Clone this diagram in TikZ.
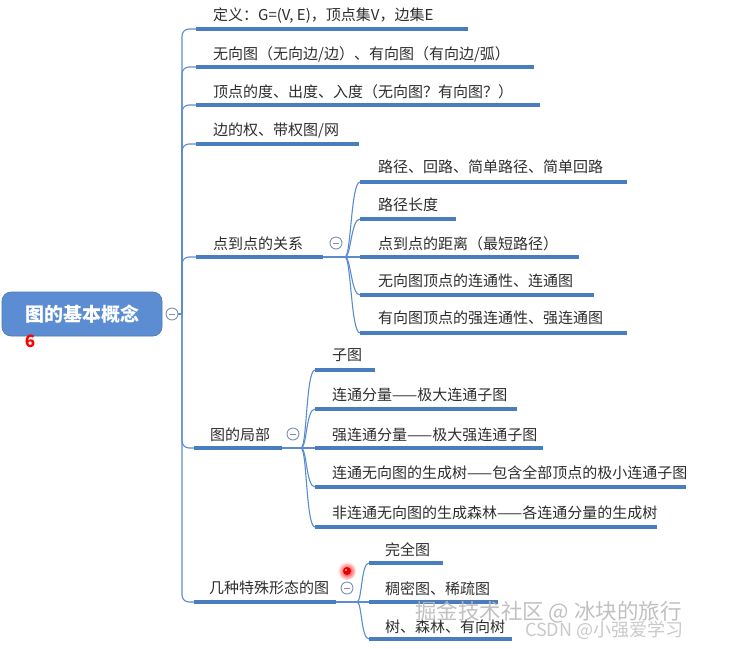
\documentclass[tikz,border=0pt]{standalone}
\usepackage{fontspec}
\setmainfont{Noto Sans CJK SC}
\usetikzlibrary{calc}
\definecolor{txtgray}{RGB}{45,45,45}
\definecolor{ublue}{RGB}{74,124,192}
\definecolor{cblue}{RGB}{92,140,205}
\definecolor{rootblue}{RGB}{92,141,210}
\definecolor{cgray}{RGB}{125,145,180}
\tikzset{
  lbl/.style={anchor=west, inner sep=0pt, text=txtgray, text height=12.9pt, text depth=1.5pt, font=\fontsize{15}{18}\selectfont},
  uline/.style={draw=ublue, line width=3.6pt},
  conn/.style={draw=cblue, line width=1.1pt},
  collapse/.style={circle, draw=cgray, line width=0.9pt, fill=white, minimum size=12pt, inner sep=0pt,
    path picture={\draw[cgray, line width=0.9pt] ([xshift=-3pt]path picture bounding box.center) -- ([xshift=3pt]path picture bounding box.center);}},
  rootbox/.style={rectangle, rounded corners=9pt, fill=rootblue, draw=rootblue!85!black, line width=0.6pt,
    minimum width=160pt, minimum height=44pt, text=white, font=\bfseries\fontsize{19}{22}\selectfont},
}
\begin{document}
\begin{tikzpicture}[x=1pt,y=-1pt]
\useasboundingbox (0,0) rectangle (747,648);

% root
\node[rootbox] (root) at (82,314) {图的基本概念};
\node[collapse] (rc) at (172,314) {};
\node[text=red, font=\bfseries\fontsize{17}{18}\selectfont, inner sep=0pt] (six) at (30,341) {6};
\coordinate (trunk) at (182,314);

% level 1 items
\node[lbl] (n1) at (213,15) {定义：G=(V, E)，顶点集V，边集E};
\coordinate (n1s) at (196,29); \coordinate (n1e) at (468,29);
\node[lbl] (n2) at (213,54) {无向图（无向边/边）、有向图（有向边/弧）};
\coordinate (n2s) at (196,67); \coordinate (n2e) at (534,67);
\node[lbl] (n3) at (213,92) {顶点的度、出度、入度（无向图？有向图？）};
\coordinate (n3s) at (196,105); \coordinate (n3e) at (540,105);
\node[lbl] (n4) at (213,130) {边的权、带权图/网};
\coordinate (n4s) at (196,144); \coordinate (n4e) at (359,144);
\node[lbl] (n5) at (213,244) {点到点的关系};
\coordinate (n5s) at (196,257); \coordinate (n5e) at (323,257);
\node[lbl] (n6) at (210,435) {图的局部};
\coordinate (n6s) at (194,448); \coordinate (n6e) at (282,448);
\node[lbl] (n7) at (209,588) {几种特殊形态的图};
\coordinate (n7s) at (194,602); \coordinate (n7e) at (336,602);

\draw[conn] (rc.east) -- (trunk);
\foreach \k in {1,...,7} {
  \draw[conn, rounded corners=7pt] (trunk) |- (n\k s);
  \draw[uline] (n\k s) -- (n\k e);
}

% collapse buttons of level 1
\node[collapse] (c5) at (336,243) {};
\node[collapse] (c6) at (293,434) {};
\node[collapse] (c7) at (347,588) {};

% hubs
\coordinate (h5) at (345,257);
\coordinate (h6) at (301,448);
\coordinate (h7) at (357,602);
\draw[conn] (n5e) -- (h5);
\draw[conn] (n6e) -- (h6);
\draw[conn] (n7e) -- (h7);

% level 2 under 点到点的关系
\node[lbl] (n5a) at (378,167) {路径、回路、简单路径、简单回路};
\coordinate (n5as) at (360,182); \coordinate (n5ae) at (627,182);
\node[lbl] (n5b) at (378,205) {路径长度};
\coordinate (n5bs) at (360,219); \coordinate (n5be) at (456,219);
\node[lbl] (n5c) at (378,244) {点到点的距离（最短路径）};
\coordinate (n5cs) at (360,257); \coordinate (n5ce) at (579,257);
\node[lbl] (n5d) at (378,281) {无向图顶点的连通性、连通图};
\coordinate (n5ds) at (360,295); \coordinate (n5de) at (594,295);
\node[lbl] (n5e2) at (378,318) {有向图顶点的强连通性、强连通图};
\coordinate (n5es) at (360,333); \coordinate (n5ee) at (627,333);
\foreach \c in {a,b,c,d,e} {
  \draw[conn] (h5) .. controls +(6,0) and +(-9,0) .. (n5\c s);
  \draw[uline] (n5\c s) -- (n5\c e);
}

% level 2 under 图的局部
\node[lbl] (n6a) at (332,355) {子图};
\coordinate (n6as) at (315,370); \coordinate (n6ae) at (375,370);
\node[lbl] (n6b) at (332,395) {连通分量——极大连通子图};
\coordinate (n6bs) at (315,409); \coordinate (n6be) at (517,409);
\node[lbl] (n6c) at (332,435) {强连通分量——极大强连通子图};
\coordinate (n6cs) at (315,448); \coordinate (n6ce) at (543,448);
\node[lbl] (n6d) at (332,473) {连通无向图的生成树——包含全部顶点的极小连通子图};
\coordinate (n6ds) at (315,487); \coordinate (n6de) at (686,487);
\node[lbl] (n6e2) at (332,513) {非连通无向图的生成森林——各连通分量的生成树};
\coordinate (n6es) at (315,527); \coordinate (n6ee) at (657,527);
\foreach \c in {a,b,c,d,e} {
  \draw[conn] (h6) .. controls +(6,0) and +(-9,0) .. (n6\c s);
  \draw[uline] (n6\c s) -- (n6\c e);
}

% level 2 under 几种特殊形态的图
\node[lbl] (n7a) at (385,550) {完全图};
\coordinate (n7as) at (369,563); \coordinate (n7ae) at (443,563);
\node[lbl] (n7b) at (385,589) {稠密图、稀疏图};
\coordinate (n7bs) at (369,602); \coordinate (n7be) at (498,602);
\node[lbl] (n7c) at (385,627) {树、森林、有向树};
\coordinate (n7cs) at (369,639); \coordinate (n7ce) at (512,639);
\foreach \c in {a,b,c} {
  \draw[conn] (h7) .. controls +(5,0) and +(-8,0) .. (n7\c s);
  \draw[uline] (n7\c s) -- (n7\c e);
}

% red pointer dot
\shade[inner color=red, outer color=red!5] (347,571) circle (9pt);
\fill[red!90!black] (347,571) circle (4pt);
\fill[white!70!red] (346,570) circle (1.2pt);

% watermarks
\node[anchor=west, inner sep=0pt, text=gray!55, opacity=0.9, font=\fontsize{21.5}{24}\selectfont] (wm1) at (415,612) {掘金技术社区 @ 冰块的旅行};
\node[anchor=west, inner sep=0pt, text=gray!50, opacity=0.85, font=\fontsize{18}{20}\selectfont] (wm2) at (525,630) {CSDN @小强爱学习};
\end{tikzpicture}
\end{document}
